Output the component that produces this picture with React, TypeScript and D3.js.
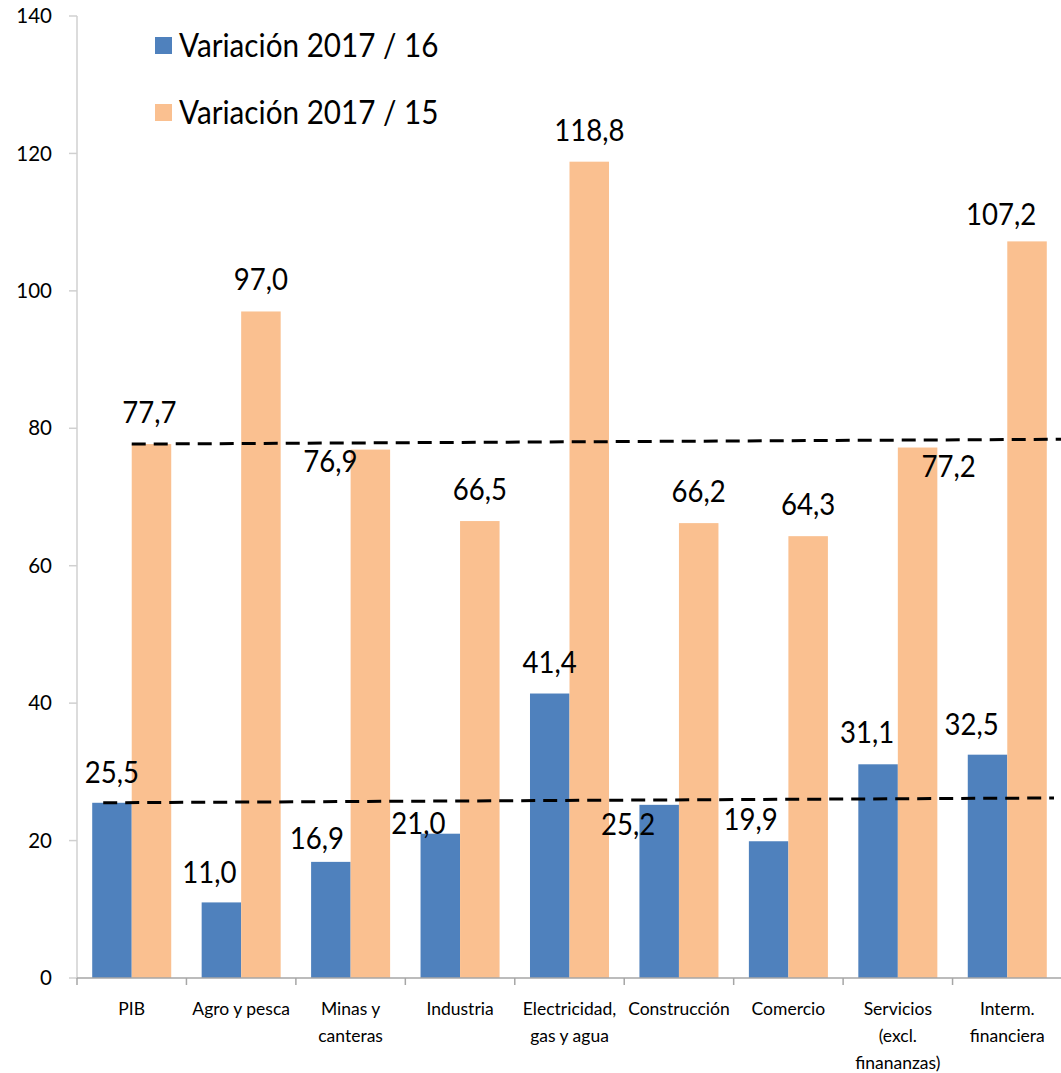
import React from "react";
import * as d3 from "d3";

const categories = [
  ["PIB"],
  ["Agro y pesca"],
  ["Minas y", "canteras"],
  ["Industria"],
  ["Electricidad,", "gas y agua"],
  ["Construcción"],
  ["Comercio"],
  ["Servicios", "(excl.", "finananzas)"],
  ["Interm.", "financiera"],
];
const series = ["Variación 2017 / 16", "Variación 2017 / 15"];
const var1716 = [25.5, 11.0, 16.9, 21.0, 41.4, 25.2, 19.9, 31.1, 32.5];
const var1715 = [77.7, 97.0, 76.9, 66.5, 118.8, 66.2, 64.3, 77.2, 107.2];
const yTicks = [0, 20, 40, 60, 80, 100, 120, 140];
// reference (dashed) lines: start/end values
const refLineHigh = [77.7, 78.4];
const refLineLow = [25.5, 26.2];

// label offsets (px) [dx, dy relative to default above-bar placement]
const labelOffsets1716 = [[0, 1], [-12, 2], [-14, 8], [-22, 21], [0, 0], [-31, 51], [-18, 10], [-11, 0], [-16, 1]];
const labelOffsets1715 = [[-2, 0], [0, 0], [-40, 43], [0, 0], [0, 0], [0, 0], [0, 0], [31, 50], [-26, 5]];

const colors = ["#4F81BD", "#FAC090"];
const FONT = "Lato, 'Open Sans', sans-serif";

export default function App() {
  const W = 1061, H = 1073;
  const left = 77, right = 1062, bottom = 978, top = 16;
  const idx = categories.map((_, i) => i);
  const x0 = d3.scaleBand<number>().domain(idx).range([left, right]).paddingInner(0.278).paddingOuter(0.139);
  const x1 = d3.scaleBand<number>().domain([0, 1]).range([0, x0.bandwidth()]);
  const y = d3.scaleLinear().domain([0, 140]).range([bottom, top]);
  const step = x0.step();
  const data = [var1716, var1715];
  const offs = [labelOffsets1716, labelOffsets1715];
  const fmt = (v: number) => v.toFixed(1).replace(".", ",");

  const hiX0 = (x0(0) as number) + x1(1)!;
  const loX0 = (x0(0) as number) + 11;

  return (
    <svg width={W} height={H} style={{ position: "absolute", left: 0, top: 0, background: "#fff" }} fontFamily={FONT}>
      <rect x={0} y={0} width={W} height={H} fill="#fff" />
      {/* y axis */}
      <line x1={left} x2={left} y1={top} y2={bottom} stroke="#D0D0D0" strokeWidth={1.5} />
      {yTicks.map((t) => (
        <g key={t}>
          <line x1={left - 8} x2={left} y1={y(t)} y2={y(t)} stroke="#D0D0D0" strokeWidth={1.5} />
          <text x={52} y={y(t)} dy="0.35em" textAnchor="end" fontSize={20.5} fill="#000">{t}</text>
        </g>
      ))}
      {/* bars */}
      {data.map((vals, s) =>
        vals.map((v, i) => (
          <rect key={`${s}-${i}`} x={(x0(i) as number) + x1(s)!} y={y(v)} width={x1.bandwidth()} height={bottom - y(v)} fill={colors[s]} />
        ))
      )}
      {/* x axis */}
      <line x1={left} x2={right} y1={bottom} y2={bottom} stroke="#A6A6A6" strokeWidth={1.5} />
      {d3.range(categories.length + 1).map((i) => (
        <line key={i} x1={left + i * step} x2={left + i * step} y1={bottom} y2={bottom + 7} stroke="#A6A6A6" strokeWidth={1.5} />
      ))}
      {categories.map((lines, i) => (
        <text key={i} x={(x0(i) as number) + x0.bandwidth() / 2} y={1015} textAnchor="middle" fontSize={17.5} fill="#000">
          {lines.map((l, k) => (
            <tspan key={k} x={(x0(i) as number) + x0.bandwidth() / 2} dy={k === 0 ? 0 : 27}>{l}</tspan>
          ))}
        </text>
      ))}
      {/* dashed reference lines */}
      <line x1={hiX0} x2={W} y1={y(refLineHigh[0])} y2={y(refLineHigh[1])} stroke="#000" strokeWidth={3} strokeDasharray="14 8" />
      <line x1={loX0} x2={1054} y1={y(refLineLow[0])} y2={y(refLineLow[1])} stroke="#000" strokeWidth={3} strokeDasharray="14 8" />
      {/* data labels */}
      {data.map((vals, s) =>
        vals.map((v, i) => (
          <g key={`l${s}-${i}`} transform={`translate(${(x0(i) as number) + x1(s)! + x1.bandwidth() / 2 + offs[s][i][0]}, ${y(v) - 21 + offs[s][i][1]}) scale(0.92, 1)`}>
            <text x={0} y={0} textAnchor="middle" fontSize={30} fill="#000">{fmt(v)}</text>
          </g>
        ))
      )}
      {/* legend */}
      {series.map((name, s) => (
        <g key={name} transform={`translate(155, ${37 + s * 67})`}>
          <rect x={0} y={0} width={17} height={17} fill={colors[s]} />
          <g transform="translate(24, 20) scale(0.9, 1)">
            <text x={0} y={0} fontSize={33} fill="#000">{name}</text>
          </g>
        </g>
      ))}
    </svg>
  );
}
